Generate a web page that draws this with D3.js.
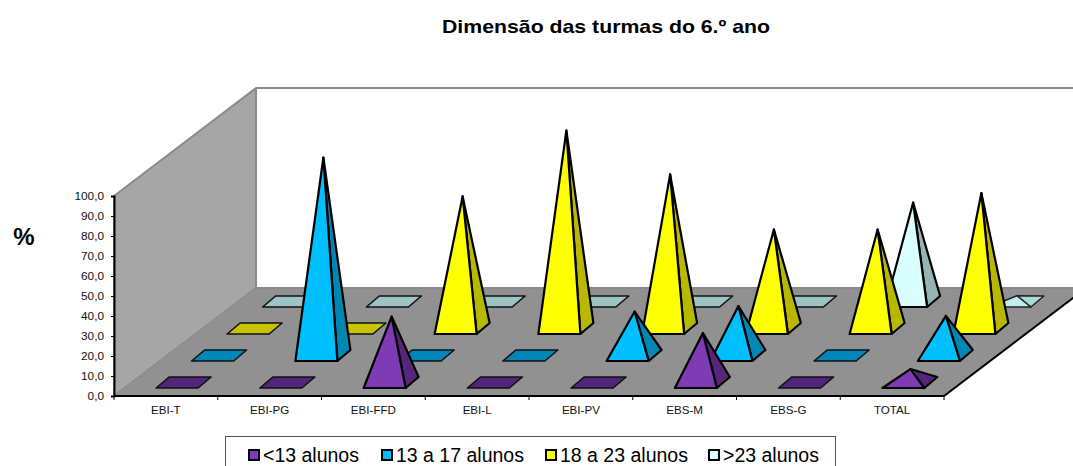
<!DOCTYPE html>
<html><head><meta charset="utf-8">
<script src="https://cdn.jsdelivr.net/npm/d3@7"></script>
<style>html,body{margin:0;padding:0;background:#fff;overflow:hidden}svg{display:block}text{font-family:"Liberation Sans",Arial,sans-serif}</style>
</head><body><svg id="c" width="1073" height="466"></svg>
<script>
const categories = ["EBI-T","EBI-PG","EBI-FFD","EBI-L","EBI-PV","EBS-M","EBS-G","TOTAL"];
const seriesNames = ["<13 alunos","13 a 17 alunos","18 a 23 alunos",">23 alunos"];
const under13 = [0,0,33.3,0,0,25,0,6.8];
const from13to17 = [0,100,0,0,22.2,25,0,20];
const from18to23 = [0,0,66.7,100,77.8,50,50,68.4];
const over23 = [0,0,0,0,0,0,50,2.9];
const yTicks = d3.range(0,101,10);
const frontColors = ["#7f3ab5","#00bfff","#ffff00","#d9ffff"];
const sideColors = ["#55267a","#0086b3","#b8b800","#94b5b3"];
const tileColors = ["#52247a","#0086b8","#c8c400","#9cc4c2"];
const series = [under13,from13to17,from18to23,over23];

const svg = d3.select("#c");
const x0=114,x1=944,y0=396,dx=142,dy=-108;
const x = d3.scaleBand().domain(categories).range([x0,x1]);
const y = d3.scaleLinear().domain([0,100]).range([y0,y0-200]);
const h = d3.scaleLinear().domain([0,100]).range([0,198]);
const depth = d3.scaleLinear().domain([0,4]).range([0,1]);
const pr = (px,py,d)=>[px+dx*d,py+dy*d];
const poly=(pts,fill,stroke,sw)=>svg.append("polygon").attr("points",pts.map(p=>p.join(",")).join(" "))
  .attr("fill",fill).attr("stroke",stroke||"none").attr("stroke-width",sw||0).attr("stroke-linejoin","round");

// walls and floor
poly([[x0,y0],pr(x0,y0,1),pr(x0,y(100),1),[x0,y(100)]],"#a6a6a6","#8a8a8a",2);
svg.append("line").attr("x1",dx+x0).attr("y1",y0+dy).attr("x2",dx+x0).attr("y2",y(100)+dy).attr("stroke","#8a8a8a").attr("stroke-width",2);
svg.append("line").attr("x1",dx+x0).attr("y1",y(100)+dy).attr("x2",1073).attr("y2",y(100)+dy).attr("stroke","#8a8a8a").attr("stroke-width",2);
poly([[x0,y0],[x1,y0],pr(x1,y0,1),pr(x0,y0,1)],"#919191");
svg.append("line").attr("x1",dx+x0).attr("y1",y0+dy).attr("x2",1073).attr("y2",y0+dy).attr("stroke","#8a8a8a").attr("stroke-width",2);
svg.append("path").attr("d",`M${x0},${y0}H${x1}L${x1+dx},${y0+dy}`).attr("fill","none").attr("stroke","#000").attr("stroke-width",2);

// pyramids, back row first
const tw=42,tdx=13,tdy=-11;
d3.range(3,-1,-1).forEach(s=>{
  const d0=depth(s+0.5);
  categories.forEach((c,i)=>{
    const cx=x(c)+x.bandwidth()/2;
    const [mx,my]=pr(cx,y0,d0);
    const fl=[mx-27.5,my+5.5],fr=[fl[0]+tw,fl[1]],br=[fr[0]+tdx,fr[1]+tdy],bl=[fl[0]+tdx,fl[1]+tdy];
    const v=series[s][i];
    if(v===0){poly([fl,fr,br,bl],tileColors[s],"#111",1.6);return;}
    const apex=[mx+0.5,my-h(v)];
    const small=v<5;
    poly([fr,br,apex],small?"#a8dcdc":sideColors[s],small?"#222":"#000",small?1.5:2.2);
    poly([fl,fr,apex],small?"#bfeeee":frontColors[s],small?"#222":"#000",small?1.5:2.2);
  });
});

// axes
const gy=svg.append("g").attr("transform",`translate(${x0},0)`).call(d3.axisLeft(y).tickValues(yTicks).tickSize(3).tickPadding(7).tickFormat(v=>d3.format(".1f")(v).replace(".",",")));
gy.select(".domain").attr("stroke","#000").attr("stroke-width",2);
gy.selectAll("line").attr("stroke","#000");
gy.selectAll("text").attr("font-size",11.8).attr("fill","#111").style("font-family",'"Liberation Sans"');
const gx=svg.append("g").attr("transform",`translate(0,${y0})`).call(d3.axisBottom(x).tickSize(0).tickPadding(10));
gx.select(".domain").remove();
gx.selectAll("text").attr("font-size",11.6).attr("fill","#111").style("font-family",'"Liberation Sans"');
categories.concat(["end"]).forEach((c,i)=>svg.append("line").attr("x1",x0+i*x.step()).attr("x2",x0+i*x.step()).attr("y1",y0).attr("y2",y0+4).attr("stroke","#000"));

// title
svg.append("text").attr("x",606).attr("y",33).attr("text-anchor","middle").attr("font-size",19).attr("font-weight","bold")
  .attr("textLength",328).attr("lengthAdjust","spacingAndGlyphs").text("Dimensão das turmas do 6.º ano");
svg.append("text").attr("x",24).attr("y",245).attr("text-anchor","middle").attr("font-size",24).attr("font-weight","bold").text("%");

// legend
svg.append("rect").attr("x",225.5).attr("y",436.5).attr("width",610).attr("height",40).attr("fill","#fff").attr("stroke","#555");
const legX=[248,381,545,708];
seriesNames.forEach((n,i)=>{
  svg.append("rect").attr("x",legX[i]+1).attr("y",450).attr("width",10).attr("height",10).attr("fill",frontColors[i]).attr("stroke","#000").attr("stroke-width",2);
  svg.append("text").attr("x",legX[i]+15).attr("y",462).attr("font-size",19.5).attr("fill","#000").text(n);
});
</script></body></html>
